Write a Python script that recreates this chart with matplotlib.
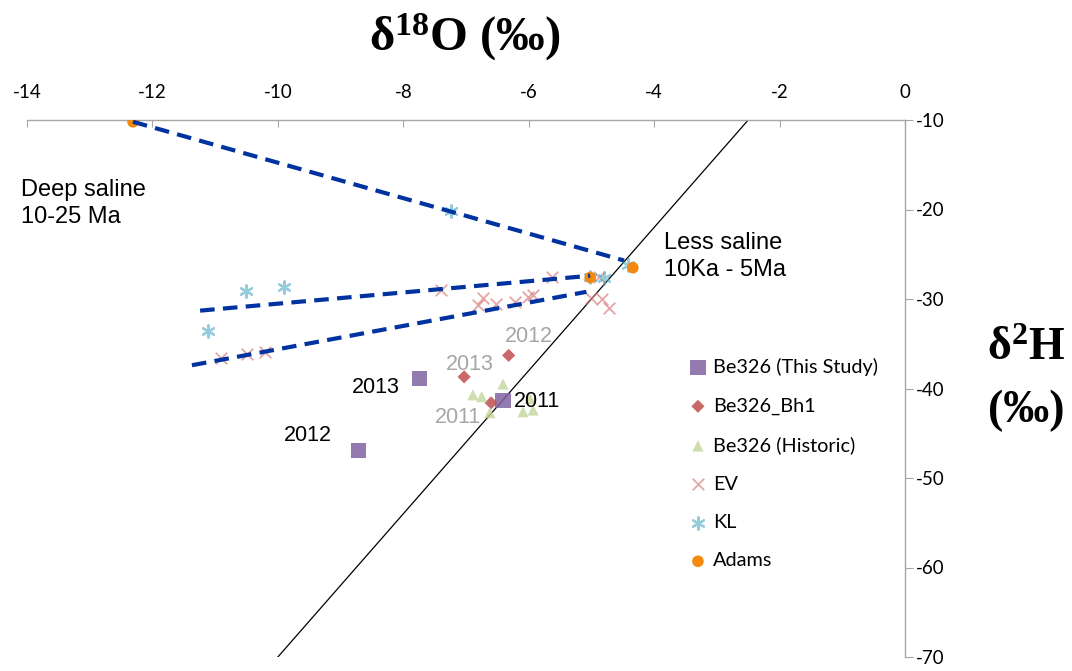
import matplotlib
matplotlib.use("Agg")
import matplotlib.pyplot as plt

plt.rcParams['mathtext.fontset'] = 'custom'
plt.rcParams['mathtext.rm'] = 'Liberation Serif:bold'
plt.rcParams['mathtext.it'] = 'Liberation Serif:bold'
plt.rcParams['mathtext.bf'] = 'Liberation Serif:bold'
plt.rcParams['mathtext.default'] = 'rm'

# --- isotope data (d18O, d2H in permil) ---
study_x = [-7.74, -8.71, -6.41]
study_y = [-38.9, -46.9, -41.3]

bh1_x = [-6.32, -7.03, -6.60]
bh1_y = [-36.3, -38.7, -41.6]

hist_x = [-6.41, -6.89, -6.75, -6.62, -6.09, -5.93, -5.98]
hist_y = [-39.5, -40.7, -40.9, -42.7, -42.6, -42.4, -41.1]

ev_x = [-5.63, -7.40, -6.73, -6.81, -6.52, -6.22, -6.01, -5.93, -5.01, -4.83,
        -4.72, -4.88, -10.90, -10.50, -10.20]
ev_y = [-27.5, -29.0, -29.9, -30.7, -30.6, -30.3, -29.8, -29.6, -29.9, -30.0,
        -31.0, -27.5, -36.6, -36.1, -35.9]

kl_x = [-7.24, -10.51, -9.90, -11.12, -5.02, -4.80, -4.42]
kl_y = [-20.2, -29.1, -28.7, -33.6, -27.5, -27.7, -26.2]

adams_x = [-12.31, -4.34, -5.02]
adams_y = [-10.2, -26.5, -27.6]

# mixing lines (start, end)
mix1_x = [-12.31, -4.48]
mix1_y = [-10.2, -25.7]
mix2_x = [-11.24, -5.02]
mix2_y = [-31.3, -27.4]
mix3_x = [-11.37, -5.08]
mix3_y = [-37.4, -29.2]

# global meteoric water line d2H = 8*d18O + 10
gmwl_x = [-10.0, -2.5]
gmwl_y = [8 * v + 10 for v in gmwl_x]

x_ticks = [-14, -12, -10, -8, -6, -4, -2, 0]
y_ticks = [-10, -20, -30, -40, -50, -60, -70]

# year labels: (text, x, y, colour)
year_labels = [
    ("2012", -6.38, -34.2, "#A6A6A6"),
    ("2013", -7.32, -37.3, "#A6A6A6"),
    ("2011", -7.50, -43.2, "#A6A6A6"),
    ("2013", -8.82, -39.9, "black"),
    ("2012", -9.91, -45.3, "black"),
    ("2011", -6.24, -41.4, "black"),
]

fig = plt.figure(figsize=(10.72, 6.71), dpi=100)
ax = fig.add_axes([27 / 1072, 1 - 657 / 671, (905 - 27) / 1072, (657 - 120) / 671])
ax.set_xlim(-14, 0)
ax.set_ylim(-70, -10)

tick_font = dict(family="Lato", size=13.5)

ax.plot(gmwl_x, gmwl_y, color="black", lw=0.9, zorder=2)

ax.scatter(study_x, study_y, marker="s", s=120, color="#8064A2", alpha=0.85,
           edgecolors="none", zorder=3, label="Be326 (This Study)")
ax.scatter(bh1_x, bh1_y, marker="D", s=45, color="#C0504D", alpha=0.85,
           edgecolors="none", zorder=3, label="Be326_Bh1")
ax.scatter(hist_x, hist_y, marker="^", s=65, color="#C3D69B", alpha=0.8,
           edgecolors="none", zorder=3, label="Be326 (Historic)")
ax.scatter(ev_x, ev_y, marker="x", s=70, color="#D98080", alpha=0.7,
           linewidths=1.3, zorder=3, label="EV")
ax.scatter(kl_x, kl_y, marker=(6, 2, 0), s=80, color="#4BACC6", alpha=0.6,
           linewidths=1.6, zorder=3, label="KL")
ax.scatter(adams_x, adams_y, marker="o", s=70, color="#F28A10",
           edgecolors="none", zorder=4, label="Adams")

for lx, ly in ((mix1_x, mix1_y), (mix2_x, mix2_y), (mix3_x, mix3_y)):
    ax.plot(lx, ly, color="#0032A0", lw=3.0, dashes=(3.5, 2.0), zorder=5,
            solid_capstyle="butt", dash_capstyle="butt")

for txt, tx, ty, col in year_labels:
    ax.text(tx, ty, txt, color=col, fontsize=15.5, family="Liberation Sans",
            ha="left", va="center", zorder=6)

ax.text(-14.1, -19.3, "Deep saline\n10-25 Ma", fontsize=17, family="Liberation Sans",
        ha="left", va="center", linespacing=1.3)
ax.text(-3.85, -25.3, "Less saline\n10Ka - 5Ma", fontsize=17, family="Liberation Sans",
        ha="left", va="center", linespacing=1.3)

# axes styling: x axis on top, y axis on the right
for side in ("left", "bottom"):
    ax.spines[side].set_visible(False)
for side in ("top", "right"):
    ax.spines[side].set_color("#A6A6A6")
    ax.spines[side].set_linewidth(1.0)
ax.xaxis.tick_top()
ax.yaxis.tick_right()
ax.set_xticks(x_ticks)
ax.set_xticklabels([str(v) for v in x_ticks], **tick_font)
ax.set_yticks(y_ticks)
ax.set_yticklabels([str(v) for v in y_ticks], **tick_font)
ax.tick_params(axis="x", direction="in", length=5, color="#A6A6A6", pad=14)
ax.tick_params(axis="y", direction="out", length=6, color="#A6A6A6", pad=2)

fig.text(465 / 1072, 1 - 37 / 671, r"δ$^{18}$O (‰)", fontsize=35,
         family="Liberation Serif", weight="bold", ha="center", va="center")
fig.text(1026 / 1072, 1 - 380 / 671, "δ$^{2}$H\n(‰)", fontsize=33,
         family="Liberation Serif", weight="bold", ha="center", va="center",
         linespacing=1.6)

leg = ax.legend(loc="upper left", bbox_to_anchor=(690 / 1072, 1 - 358 / 671),
                bbox_transform=fig.transFigure, frameon=False,
                prop=dict(family="Lato", size=14.3), labelspacing=1.08,
                handlelength=0.8, handletextpad=0.35, borderpad=0, borderaxespad=0,
                scatterpoints=1)

fig.savefig("out.png", dpi=100)
